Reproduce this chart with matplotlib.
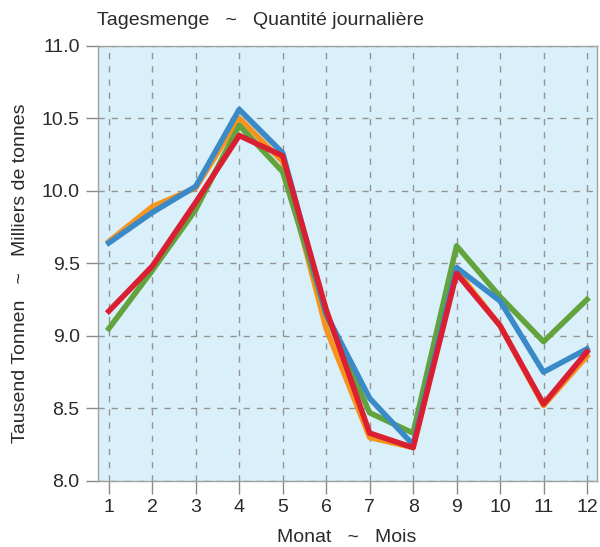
import matplotlib
matplotlib.use('Agg')
import matplotlib.pyplot as plt

plt.rcParams['font.family'] = ['Liberation Sans Narrow', 'Liberation Sans', 'DejaVu Sans']

# %%
months = [1, 2, 3, 4, 5, 6, 7, 8, 9, 10, 11, 12]

orange = [9.65, 9.89, 10.02, 10.50, 10.20, 9.05, 8.30, 8.23, 9.45, 9.07, 8.52, 8.86]
green = [9.05, 9.45, 9.87, 10.45, 10.13, 9.15, 8.47, 8.33, 9.62, 9.27, 8.96, 9.25]
blue = [9.64, 9.85, 10.03, 10.56, 10.26, 9.15, 8.57, 8.25, 9.47, 9.24, 8.75, 8.91]
red = [9.17, 9.48, 9.92, 10.38, 10.24, 9.18, 8.33, 8.23, 9.43, 9.07, 8.53, 8.89]

y_ticks = [8.0, 8.5, 9.0, 9.5, 10.0, 10.5, 11.0]

# %%
fig = plt.figure(figsize=(6.0, 5.47), dpi=100)
ax = fig.add_axes([0.163, 0.1207, 0.832, 0.796])
ax.set_facecolor('#d9f0fa')

lw = 4.0
ax.plot(months, orange, color='#f7941d', lw=lw, zorder=3)
ax.plot(months, green, color='#62a33d', lw=lw, zorder=4)
ax.plot(months, blue, color='#3a8ac8', lw=lw, zorder=5)
ax.plot(months, red, color='#da1f33', lw=lw, zorder=6)

ax.set_xlim(0.747, 12.23)
ax.set_ylim(8.0, 11.0)
ax.set_xticks(months)
ax.set_yticks(y_ticks)
ax.set_yticklabels([f'{v:.1f}' for v in y_ticks])

# gestrichelte Gitterlinien
ax.grid(True, color='#939393', linestyle=(0, (4.5, 5)), lw=1.0)
ax.set_axisbelow(True)

for s in ax.spines.values():
    s.set_color('#a0a0a0')
    s.set_linewidth(1.0)

ax.tick_params(axis='both', colors='#8a8a8a', labelcolor='#2a2a2a',
               labelsize=14, length=9, width=1.0, pad=4)

fig.text(0.162, 0.962, 'Tagesmenge   ~   Quantité journalière', fontsize=14,
         color='#2a2a2a', ha='left', va='center')
fig.text(0.034, 0.5, 'Tausend Tonnen   ~   Milliers de tonnes', fontsize=14,
         color='#2a2a2a', rotation=90, ha='center', va='center')
fig.text(0.578, 0.018, 'Monat   ~   Mois', fontsize=14,
         color='#2a2a2a', ha='center', va='center')

fig.savefig('out.png', dpi=100)
